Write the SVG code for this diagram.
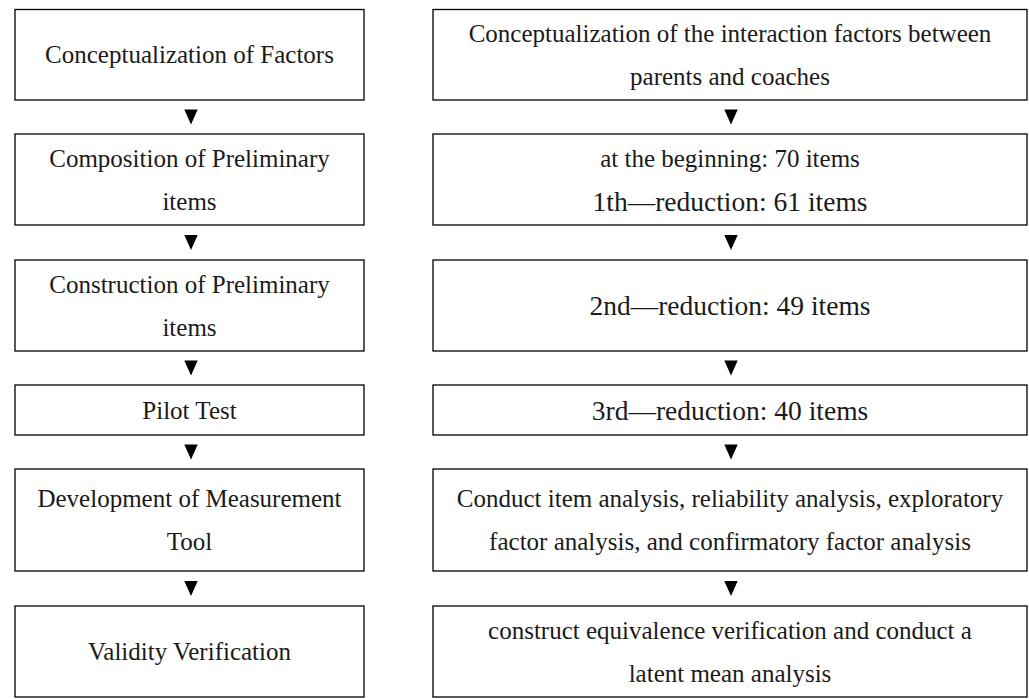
<svg xmlns="http://www.w3.org/2000/svg" width="1029" height="699" viewBox="0 0 1029 699">
<style>
.box{fill:#fff;stroke:#000;stroke-width:1.3}
.t{font-family:"Liberation Serif","Times New Roman",serif;font-size:25px;fill:#1a1a1a;text-anchor:middle}
.big{font-size:27.5px}
.arr{fill:#000}
</style>
<defs>
<polygon id="tri" points="-6.7,0 6.7,0 0,15"/>
</defs>
<rect width="1029" height="699" fill="#fff"/>
<g id="connectors">
<use href="#tri" x="191" y="109.5" class="arr"/>
<use href="#tri" x="191" y="235" class="arr"/>
<use href="#tri" x="191" y="360.5" class="arr"/>
<use href="#tri" x="191" y="444.5" class="arr"/>
<use href="#tri" x="191" y="581" class="arr"/>
<use href="#tri" x="731" y="109.5" class="arr"/>
<use href="#tri" x="731" y="235" class="arr"/>
<use href="#tri" x="731" y="360.5" class="arr"/>
<use href="#tri" x="731" y="444.5" class="arr"/>
<use href="#tri" x="731" y="581" class="arr"/>
</g>
<g id="L1"><rect class="box" x="15" y="9.5" width="349" height="90.5"/><text class="t" x="189.5" y="63">Conceptualization of Factors</text></g>
<g id="L2"><rect class="box" x="15" y="134" width="349" height="91"/><text class="t" x="189.5" y="167">Composition of Preliminary</text><text class="t" x="189.5" y="210">items</text></g>
<g id="L3"><rect class="box" x="15" y="260" width="349" height="91"/><text class="t" x="189.5" y="293">Construction of Preliminary</text><text class="t" x="189.5" y="336">items</text></g>
<g id="L4"><rect class="box" x="15" y="385" width="349" height="50"/><text class="t" x="189.5" y="418.5">Pilot Test</text></g>
<g id="L5"><rect class="box" x="15" y="469" width="349" height="102"/><text class="t" x="189.5" y="507">Development of Measurement</text><text class="t" x="189.5" y="550">Tool</text></g>
<g id="L6"><rect class="box" x="15" y="606" width="349" height="91"/><text class="t" x="189.5" y="660">Validity Verification</text></g>
<g id="R1"><rect class="box" x="433" y="9.5" width="594" height="90.5"/><text class="t" x="730" y="42">Conceptualization of the interaction factors between</text><text class="t" x="730" y="85">parents and coaches</text></g>
<g id="R2"><rect class="box" x="433" y="134" width="594" height="91"/><text class="t" x="730" y="167">at the beginning: 70 items</text><text class="t big" x="730" y="211">1th—reduction: 61 items</text></g>
<g id="R3"><rect class="box" x="433" y="260" width="594" height="91"/><text class="t big" x="730" y="315">2nd—reduction: 49 items</text></g>
<g id="R4"><rect class="box" x="433" y="385" width="594" height="50"/><text class="t big" x="730" y="419.5">3rd—reduction: 40 items</text></g>
<g id="R5"><rect class="box" x="433" y="469" width="594" height="102"/><text class="t" x="730" y="507">Conduct item analysis, reliability analysis, exploratory</text><text class="t" x="730" y="550">factor analysis, and confirmatory factor analysis</text></g>
<g id="R6"><rect class="box" x="433" y="606" width="594" height="91"/><text class="t" x="730" y="638.5">construct equivalence verification and conduct a</text><text class="t" x="730" y="681.5">latent mean analysis</text></g>
</svg>
